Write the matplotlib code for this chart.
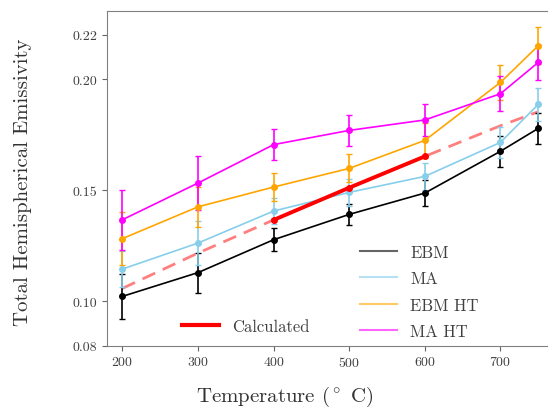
import matplotlib
matplotlib.use("Agg")
import matplotlib.pyplot as plt
from matplotlib.lines import Line2D

plt.rcParams['font.family'] = 'serif'
plt.rcParams['font.serif'] = ['cmr10']
plt.rcParams['mathtext.fontset'] = 'cm'
plt.rcParams['axes.formatter.use_mathtext'] = True

temps = [200, 300, 400, 500, 600, 700, 750]

ebm = [0.1022, 0.1129, 0.1277, 0.1391, 0.1487, 0.1675, 0.1778]
ebm_err = [0.010, 0.009, 0.0051, 0.0047, 0.006, 0.007, 0.007]

ma = [0.1145, 0.1262, 0.1406, 0.1490, 0.1562, 0.1715, 0.1886]
ma_err = [0.008, 0.010, 0.006, 0.006, 0.006, 0.007, 0.0076]

ebm_ht = [0.1282, 0.1425, 0.1514, 0.1598, 0.1724, 0.1985, 0.2150]
ebm_ht_err = [0.012, 0.009, 0.0063, 0.0063, 0.008, 0.0078, 0.0084]

ma_ht = [0.1367, 0.1532, 0.1705, 0.1769, 0.1816, 0.1934, 0.2075]
ma_ht_err = [0.0135, 0.0123, 0.007, 0.007, 0.007, 0.0078, 0.008]

calc_temps = [400, 500, 600]
calc = [0.1366, 0.1511, 0.1652]

fit = [0.1058, 0.1217, 0.1366, 0.1511, 0.1652, 0.1790, 0.1853]

fig = plt.figure(figsize=(5.48, 4.10), dpi=100)
ax = fig.add_axes([0.1958, 0.1544, 0.814, 0.8156])

series = [(ebm, ebm_err, 'black', 'EBM'),
          (ma, ma_err, 'skyblue', 'MA'),
          (ebm_ht, ebm_ht_err, 'orange', 'EBM HT'),
          (ma_ht, ma_ht_err, 'magenta', 'MA HT')]

# dashed fit line under everything
ax.plot(temps, fit, '--', color='red', alpha=0.5, lw=2, dashes=(5, 3), zorder=2)
for vals, errs, col, lab in series:
    ax.errorbar(temps, vals, yerr=errs, color=col, marker='o', ms=4,
                lw=1.2, elinewidth=1.2, capsize=2, zorder=3)
ax.plot(calc_temps, calc, color='red', lw=2.8, marker='o', ms=4, zorder=4)

ax.set_xlim(180, 770)
ax.set_ylim(0.08, 0.2305)
ax.set_xticks([200, 300, 400, 500, 600, 700])
ax.set_yticks([0.08, 0.10, 0.15, 0.20, 0.22])
ax.set_yticklabels(['0.08', '0.10', '0.15', '0.20', '0.22'])
ax.tick_params(labelsize=10, color='0.4', labelcolor='0.25')
for s in ax.spines.values():
    s.set_color('0.5')

ax.set_xlabel(r'Temperature ($^\circ$ C)', fontsize=15, color='0.2')
ax.set_ylabel('Total Hemispherical Emissivity', fontsize=15, color='0.2')
ax.xaxis.set_label_coords(0.398, -0.1145)
ax.yaxis.set_label_coords(-0.168, 0.4925)

handles = [Line2D([], [], color=c, lw=1.5, alpha=0.6) for _, _, c, _ in series]
labels = [l for _, _, _, l in series]
fig.legend(handles, labels, loc='upper left', bbox_to_anchor=(0.642, 0.422),
           frameon=False, fontsize=12, borderpad=0, handlelength=2.2,
           labelspacing=0.67, labelcolor='0.25')
fig.legend([Line2D([], [], color='red', lw=3)], ['Calculated'], loc='upper left',
           bbox_to_anchor=(0.3174, 0.2416), frameon=False, fontsize=12, borderpad=0,
           handlelength=2.2, labelcolor='0.25')

fig.savefig('out.png', dpi=100)
